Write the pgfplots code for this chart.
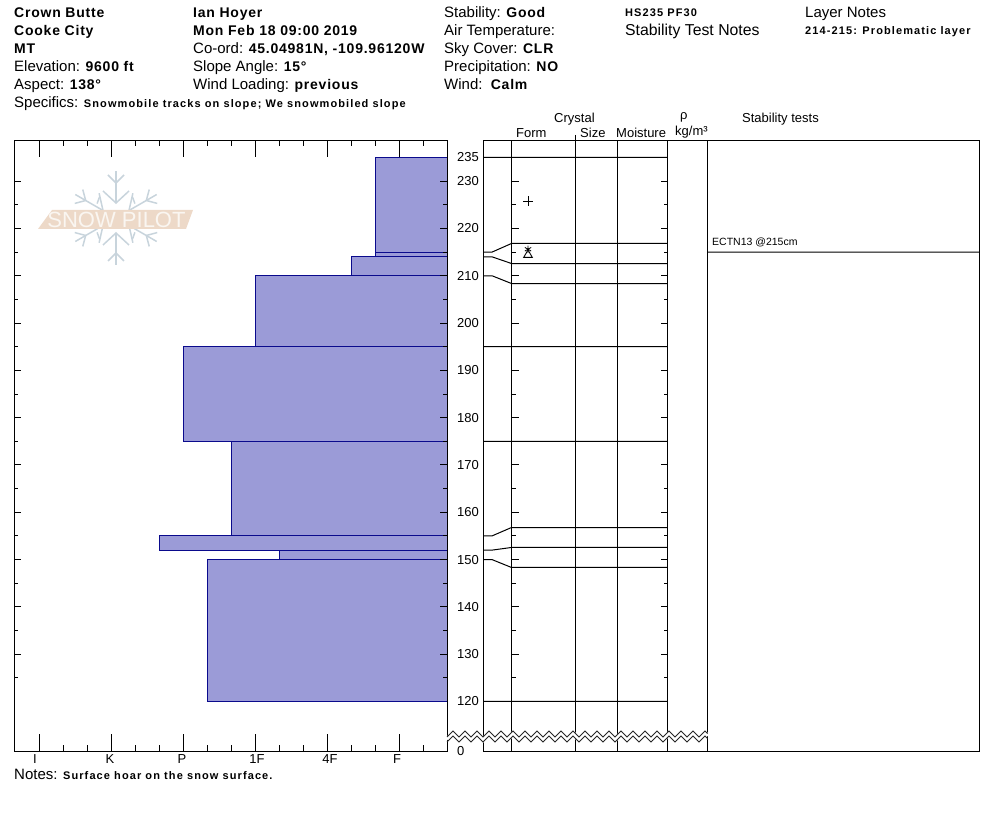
\documentclass[border=0pt]{standalone}
\usepackage{pgfplots}
\usepackage{pgfplotstable}
\usepackage{fontspec}
\pgfplotsset{compat=1.18}
\setmainfont{Liberation Sans}
\newfontfamily\spaced[LetterSpace=5.5]{Liberation Sans}
\newfontfamily\spacedsm[LetterSpace=10]{Liberation Sans}
\definecolor{barfill}{HTML}{9B9BD7}
\definecolor{baredge}{HTML}{0A0A8C}
\definecolor{flake}{HTML}{C8D4DC}
\definecolor{banner}{HTML}{EDD9C8}
\newcommand\B[1]{{\spaced\bfseries\fontsize{14}{14}\selectfont #1}}
\newcommand\sm[1]{{\spacedsm\bfseries\fontsize{11}{11}\selectfont #1}}
\newcommand\T[4][15]{\node[anchor=base west,inner sep=0pt,font=\fontsize{#1}{#1}\selectfont] at (axis cs:#2,#3) {#4};}
% break in the height scale, two zigzags across the profile
\pgfplotstableread{
x y
447 737
453 731
459 737
465 731
471 737
477 731
483 737
489 731
495 737
501 731
507 737
513 731
519 737
525 731
531 737
537 731
543 737
549 731
555 737
561 731
567 737
573 731
579 737
585 731
591 737
597 731
603 737
609 731
615 737
621 731
627 737
633 731
639 737
645 731
651 737
657 731
663 737
669 731
675 737
681 731
687 737
693 731
699 737
705 731
707.5 733.5
}\zigzag
\pgfplotsset{
  every tick/.style={black,line width=1pt},
  profile/.style={
    scale only axis,
    height=611pt,
    ymin=109.43,ymax=238.594,
    axis line style={line width=1pt},
    tick align=inside,
    ticklabel style={font=\fontsize{13}{13}\selectfont,inner sep=0pt},
  },
  bar/.style={draw=baredge,fill=barfill,line width=1pt},
  rule/.style={black,line width=1pt,no markers},
}
\begin{document}
\begin{tikzpicture}[x=1pt,y=1pt]
\path[use as bounding box] (0,0) rectangle (994,840);
% logo
\begin{scope}[shift={(116,622)},draw=flake,line width=1.5pt]
\foreach \a in {30,90,150,210,270,330}{
  \begin{scope}[rotate=\a]
    \draw (15,0) -- (47,0);
    \draw (27,13) -- (15,0) -- (27,-13);
    \draw (43,8) -- (35,0) -- (43,-8);
  \end{scope}
}
\foreach \a in {90,270}{
  \begin{scope}[rotate=\a]
    \draw (14.4,18.9) -- (21,16.5);
    \draw (14.4,-18.9) -- (21,-16.5);
  \end{scope}
}
\end{scope}
\fill[banner] (38,611) -- (52,630) -- (193,630) -- (186,611) -- cycle;
\node[inner sep=0pt,text=white!75!banner,font=\fontsize{22}{22}\selectfont] at (116.5,620.5) {SNOW PILOT};
% hand hardness
\begin{axis}[profile,
  at={(14.5pt,88.5pt)},anchor=south west,width=433pt,
  x dir=reverse,xmin=0.33333,xmax=6.34722,
  axis on top,
  xtick={1,2,3,4,5,6},
  xticklabels={\hspace*{-5pt}F,\hspace*{5pt}4F,\hspace*{3pt}1F,\hspace*{-3pt}P,\hspace*{-3pt}K,\hspace*{-9pt}I},
  minor xtick={0.6667,1.3333,1.6667,2.3333,2.6667,3.3333,3.6667,4.3333,4.6667,5.3333,5.6667},
  xtick pos=both,
  xticklabel pos=bottom,
  xticklabel style={yshift=-3pt},
  x tick style={/pgfplots/major tick length=17pt,/pgfplots/minor tick length=6pt},
  y tick style={/pgfplots/major tick length=7pt,/pgfplots/minor tick length=4pt},
  ytick={130,140,150,160,170,180,190,200,210,220,230},
  yticklabels={},
  minor ytick={125,135,145,155,165,175,185,195,205,215,225},
]
\addplot[bar] coordinates {(0.3333,235)(1.3333,235)(1.3333,215)(0.3333,215)} -- cycle;
\addplot[bar] coordinates {(0.3333,215)(1.3333,215)(1.3333,214)(0.3333,214)} -- cycle;
\addplot[bar] coordinates {(0.3333,214)(1.6667,214)(1.6667,210)(0.3333,210)} -- cycle;
\addplot[bar] coordinates {(0.3333,210)(3,210)(3,195)(0.3333,195)} -- cycle;
\addplot[bar] coordinates {(0.3333,195)(4,195)(4,175)(0.3333,175)} -- cycle;
\addplot[bar] coordinates {(0.3333,175)(3.3333,175)(3.3333,155)(0.3333,155)} -- cycle;
\addplot[bar] coordinates {(0.3333,155)(4.3333,155)(4.3333,152)(0.3333,152)} -- cycle;
\addplot[bar] coordinates {(0.3333,152)(2.6667,152)(2.6667,150)(0.3333,150)} -- cycle;
\addplot[bar] coordinates {(0.3333,150)(3.6667,150)(3.6667,120)(0.3333,120)} -- cycle;
\end{axis}
% layer table
\begin{axis}[profile,
  at={(483.5pt,88.5pt)},anchor=south west,width=496pt,
  xmin=483.5,xmax=979.5,
  unbounded coords=jump,
  xtick={511.5,575.5,617.5,667.5,707.5},
  xticklabels={},
  xmajorgrids,
  grid style={black,line width=1pt},
  major tick length=0pt,
  ytick={109.43,120,130,140,150,160,170,180,190,200,210,220,230,235},
  yticklabels={0,120,130,140,150,160,170,180,190,200,210,220,230,235},
  yticklabel style={anchor=west,xshift=-26.5pt},
]
\addplot[rule] coordinates {
  (483.5,235)(667.5,235) (nan,nan)
  (483.5,215)(492,215)(511.5,216.82)(667.5,216.82) (nan,nan)
  (483.5,214)(492,214)(511.5,212.59)(667.5,212.59) (nan,nan)
  (483.5,210)(492,210)(511.5,208.36)(667.5,208.36) (nan,nan)
  (483.5,195)(667.5,195) (nan,nan)
  (483.5,175)(667.5,175) (nan,nan)
  (483.5,155)(492,155)(511.5,156.78)(667.5,156.78) (nan,nan)
  (483.5,152)(492,152)(511.5,152.56)(667.5,152.56) (nan,nan)
  (483.5,150)(492,150)(511.5,148.33)(667.5,148.33) (nan,nan)
  (483.5,120)(667.5,120) (nan,nan)
  (707.5,215)(979.5,215)
};
% crystal form symbols
\addplot[only marks,mark=+,mark size=4.6pt,mark options={black,line width=.9pt}] coordinates {(528,225.8)};
\addplot[only marks,mark=asterisk,mark size=3.6pt,mark options={black,line width=.8pt}] coordinates {(528,215.6)};
\addplot[only marks,mark=triangle,mark size=5pt,mark options={black,line width=.9pt}] coordinates {(528,214.4)};
\end{axis}
% height ticks on the form and moisture columns
\begin{axis}[profile,
  at={(511.5pt,88.5pt)},anchor=south west,width=156pt,
  xmin=511.5,xmax=667.5,
  hide x axis,
  major tick length=7pt,minor tick length=4pt,
  ytick={130,140,150,160,170,180,190,200,210,220,230},
  yticklabels={},
  minor ytick={125,135,145,155,165,175,185,195,205,215,225},
]
\end{axis}
% texts and the scale break, in pixels of the page
\begin{axis}[scale only axis,at={(0pt,0pt)},anchor=south west,width=994pt,height=840pt,
  xmin=0,xmax=994,ymin=0,ymax=840,y dir=reverse,hide axis,clip=false]
\addplot[white,line width=4.6pt,no markers,yshift=-2.5pt] table[x=x,y=y] {\zigzag};
\addplot[black!85,line width=.9pt,no markers] table[x=x,y=y] {\zigzag};
\addplot[black!85,line width=.9pt,no markers,yshift=-5pt] table[x=x,y=y] {\zigzag};
\addplot[rule] coordinates {(575.5,135)(575.5,140)};
\T{14}{18}{\B{Crown Butte}}
\T{14}{36}{\B{Cooke City}}
\T{14}{54}{\B{MT}}
\T{14}{72}{Elevation: \B{9600 ft}}
\T{14}{90}{Aspect: \B{138°}}
\T{193}{18}{\B{Ian Hoyer}}
\T{193}{36}{\B{Mon Feb 18 09:00 2019}}
\T{193}{54}{Co-ord: \B{45.04981N, -109.96120W}}
\T{193}{72}{Slope Angle: \B{15°}}
\T{193}{90}{Wind Loading: \B{previous}}
\T{444}{18}{Stability: \B{Good}}
\T{444}{36}{Air Temperature:}
\T{444}{54}{Sky Cover: \B{CLR}}
\T{444}{72}{Precipitation: \B{NO}}
\T{444}{90}{Wind:\ \ \B{Calm}}
\T{625}{17}{\sm{HS235 PF30}}
\T[15.8]{625}{36}{Stability Test Notes}
\T{805}{18}{Layer Notes}
\T{805}{35}{\sm{214-215: Problematic layer}}
\T{14}{108}{Specifics: \sm{Snowmobile tracks on slope; We snowmobiled slope}}
\T{14}{779}{Notes: \sm{Surface hoar on the snow surface.}}
\T[13]{554}{123}{Crystal}
\T[13]{516}{138}{Form}
\T[13]{580}{138}{Size}
\T[13]{616}{138}{Moisture}
\T[13]{680}{120}{ρ}
\T[13]{675}{136}{kg/m³}
\T[13]{742}{123}{Stability tests}
\T[10.5]{712}{246}{ECTN13 @215cm}
\end{axis}
\end{tikzpicture}
\end{document}
